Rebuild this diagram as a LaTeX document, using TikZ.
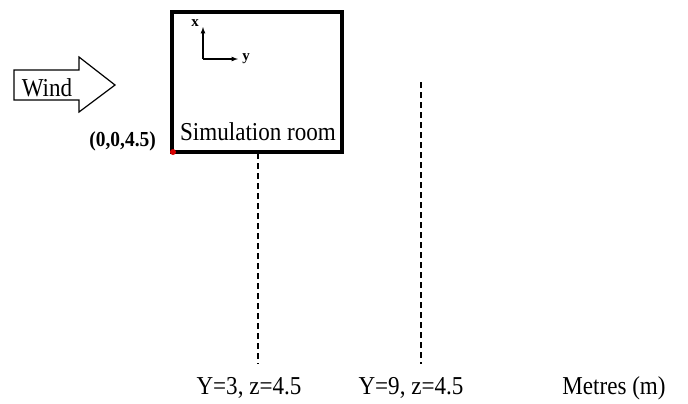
\documentclass[tikz,border=0pt]{standalone}
\usepackage{fontspec}
\setmainfont{Liberation Serif}
\begin{document}
\begin{tikzpicture}[x=1bp,y=-1bp,
  txt/.style={inner sep=0pt, font=\fontsize{22.5}{24}\selectfont, transform shape, xscale=1.03, yscale=1.15},
  btxt/.style={inner sep=0pt, font=\fontsize{19.5}{21}\selectfont\bfseries, transform shape, yscale=1.1},
  axlab/.style={inner sep=0pt, font=\fontsize{15}{16}\selectfont\bfseries},
  probe/.style={dashed, dash pattern=on 6bp off 4bp, line width=1.8bp},
  axis/.style={-latex, line width=1.2bp}]
\useasboundingbox (0,0) rectangle (688,403);
% wind arrow
\draw[line width=1.2bp, fill=white] (14,70) -- (79,70) -- (79,57) -- (115,85) -- (79,112) -- (79,100) -- (14,100) -- cycle;
\node[txt] (wind) at (47,88) {Wind};
% room
\draw[line width=4bp] (172,12) rectangle (342,152);
\node[txt] (room) at (258,132) {Simulation room};
\coordinate (orig) at (173,152);
\fill[red!85!black] (orig) circle (3bp);
\node[btxt, anchor=east] (origlab) at (156,141) {(0,0,4.5)};
% axes
\coordinate (ax0) at (203,59);
\coordinate (axx) at (203,27);
\coordinate (axy) at (238,59);
\draw[axis] (ax0) -- (axx);
\draw[axis] (ax0) -- (axy);
\node[axlab] (xl) at (195,23) {x};
\node[axlab] (yl) at (246,59) {y};
% probes
\coordinate (p1t) at (258,153);
\coordinate (p1b) at (258,364);
\coordinate (p2t) at (421,82);
\coordinate (p2b) at (421,364);
\draw[probe] (p1t) -- (p1b);
\draw[probe] (p2t) -- (p2b);
\node[txt] (l1) at (249,388) {Y=3, z=4.5};
\node[txt] (l2) at (411,388) {Y=9, z=4.5};
\node[txt] (l3) at (614,388) {Metres (m)};
\end{tikzpicture}
\end{document}
